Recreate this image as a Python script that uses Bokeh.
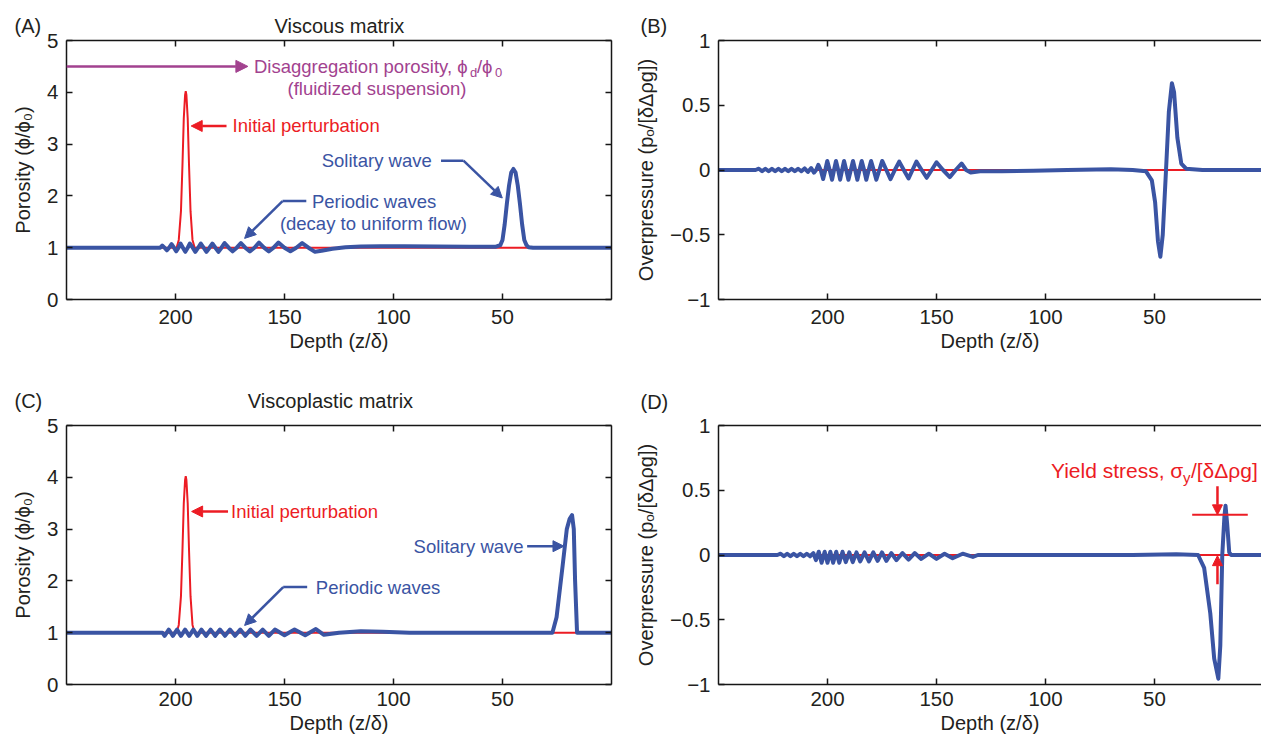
from bokeh.plotting import figure
from bokeh.layouts import column, row
from bokeh.models import Range1d, LinearAxis, FixedTicker, Label, Arrow, NormalHead, Title
from bokeh.embed import file_html
from bokeh.resources import INLINE

FONT = "Liberation Sans"
BLUE = "#3A54A3"
RED = "#EC1C24"
PURPLE = "#A2428F"
INK = "#231F20"
NB = "\u00a0"

# ---------------- data ----------------
depth_ticks = [200, 150, 100, 50]
phi_ticks = [0, 1, 2, 3, 4, 5]
p_ticks = [-1.0, -0.5, 0.0, 0.5, 1.0]
p_tick_labels = {-1.0: "\u22121", -0.5: "\u22120.5", 0.0: "0", 0.5: "0.5", 1.0: "1"}

# initial porosity perturbation (red), same in (A) and (C)
init_depth = [250, 199.5, 198.5, 197.5, 196.8, 196.2, 195.6, 195.3, 195.0, 194.4, 193.8, 193.1, 192.2, 191.2, 0]
init_phi = [1.0, 1.0, 1.15, 1.7, 2.6, 3.5, 3.95, 4.02, 3.95, 3.5, 2.6, 1.7, 1.15, 1.0, 1.0]
# initial overpressure (red), (B) and (D)
init_p_depth = [250, 0]
init_p = [0.0, 0.0]

# (A) viscous matrix porosity
visc_depth = [250, 210,
              207.0, 206.1, 205.0, 204.0, 202.9, 201.8, 200.7, 199.7, 198.6, 197.7, 196.6, 195.5,
              194.4, 193.4, 192.1, 190.9, 189.6, 188.4, 187.1, 185.8, 184.4, 183.1, 181.7, 180.3,
              178.9, 177.5, 175.6, 173.8, 171.9, 170.0, 168.0, 165.9, 163.8, 161.7, 159.4, 157.2,
              155.0, 152.8, 150.0, 147.3, 144.6, 141.9, 139.0, 136.0,
              133, 128, 122, 115, 106, 95, 80, 65, 55, 53,
              51, 50, 49, 48, 47, 46, 45, 44, 43, 42, 41, 40, 39, 38, 36, 0]
visc_phi = [1.0, 1.0,
            1.0, 1.04, 1.0, 0.95, 1.0, 1.07, 1.0, 0.93, 1.0, 1.08, 1.0, 0.92,
            1.0, 1.08, 1.0, 0.92, 1.0, 1.08, 1.0, 0.92, 1.0, 1.08, 1.0, 0.92,
            1.0, 1.09, 1.0, 0.93, 1.0, 1.09, 1.0, 0.93, 1.0, 1.10, 1.0, 0.93,
            1.0, 1.10, 1.0, 0.93, 1.0, 1.09, 1.0, 0.92,
            0.94, 0.98, 1.01, 1.025, 1.03, 1.03, 1.025, 1.02, 1.02, 1.02,
            1.05, 1.15, 1.45, 1.85, 2.2, 2.45, 2.52, 2.45, 2.2, 1.85, 1.45, 1.15, 1.05, 1.01, 1.0, 1.0]

# (B) viscous matrix overpressure
visc_p_depth = [250, 233, 231.5, 230, 228.5, 227, 225.5, 224, 222.5, 221, 219.5, 218, 216.5, 215, 213.5, 212,
                210.5, 209, 207.5, 206.2,
                205.2, 204.2, 203.1, 202.0, 201.0, 200.1, 199.0, 197.9, 197.0, 196.1, 195.1, 194.2,
                193.3, 192.4, 191.4, 190.4, 189.3, 188.3, 187.3, 186.3, 185.3, 184.3, 183.2, 182.2,
                181.1, 180.0, 178.8, 177.6, 176.2, 174.9, 173.0, 171.1, 169.1, 167.1, 165.0, 162.8,
                161.0, 159.2, 156.8, 154.5, 152.2, 150.0, 147.0, 143.9, 141.2, 138.5, 136.4, 134.3,
                130, 120, 105.6, 90, 70, 60, 53.9, 51.2, 49.7, 48.4, 47.3, 46.2, 44.7, 43.4, 42.0, 41.0,
                39.5, 37.7, 35.5, 28, 0]
visc_p = [0.0, 0.0, 0.01, -0.01, 0.01, -0.01, 0.01, -0.01, 0.01, -0.01, 0.01, -0.01, 0.01, -0.01, 0.01, -0.01,
          0.012, -0.015, 0.015, -0.02,
          0.0, 0.04, 0.0, -0.07, 0.0, 0.07, 0.0, -0.075, 0.0, 0.07, 0.0, -0.075,
          0.0, 0.07, 0.0, -0.075, 0.0, 0.07, 0.0, -0.075, 0.0, 0.07, 0.0, -0.075,
          0.0, 0.07, 0.0, -0.075, 0.0, 0.07, 0.0, -0.07, 0.0, 0.065, 0.0, -0.065,
          0.0, 0.065, 0.0, -0.06, 0.0, 0.06, 0.0, -0.055, 0.0, 0.05, 0.0, -0.02,
          -0.01, -0.01, -0.005, 0.0, 0.005, 0.0, -0.01, -0.08, -0.25, -0.55, -0.67, -0.5, 0.0, 0.45, 0.67, 0.6,
          0.25, 0.05, 0.01, 0.0, 0.0]

# (C) viscoplastic matrix porosity
vp_depth = [250, 206.0,
            205.0, 203.1, 201.2, 199.3, 197.5, 195.6, 193.7, 191.8, 190.0, 188.1,
            186.0, 183.9, 181.8, 179.6, 177.3, 175.0, 172.7, 170.3, 168.0, 165.6,
            162.8, 160.0, 157.2, 154.4, 150.0, 145.4, 140.5, 135.6, 131.9,
            125, 115, 105, 92.6, 27.1,
            25.2, 22.4, 20.5, 19.2, 18.1, 17.3, 16.7, 15.8, 0]
vp_phi = [1.0, 1.0,
          0.94, 1.06, 0.94, 1.06, 0.94, 1.06, 0.94, 1.06, 0.94, 1.06,
          0.94, 1.06, 0.94, 1.06, 0.94, 1.06, 0.94, 1.06, 0.94, 1.06,
          0.94, 1.06, 0.94, 1.06, 0.95, 1.06, 0.95, 1.07, 0.96,
          1.0, 1.03, 1.02, 1.0, 1.0,
          1.3, 2.3, 3.0, 3.2, 3.27, 3.0, 2.0, 1.0, 1.0]

# (D) viscoplastic matrix overpressure
vp_p_depth = [250, 223, 221.5, 220, 218.5, 217, 215.5, 214, 212.5, 211, 209.5, 208, 206.5,
              205.3, 204.0, 202.7, 201.3, 200.0, 198.7, 197.4, 196.0, 194.6, 193.1,
              191.6, 190.0, 188.4, 186.7, 185.0, 183.0, 181.0, 179.0, 177.0, 175.0,
              173.0, 170.7, 168.4, 165.6, 162.8, 160.0, 157.0, 153.5, 150.0, 146.3,
              142.6, 138.0, 133.3,
              131, 100, 60, 40, 30.0, 27.2, 24.4, 22.6, 20.7, 19.8, 18.9, 17.9, 17.4, 16.7, 15.7, 14.8, 0]
vp_p = [0.0, 0.0, 0.01, -0.01, 0.01, -0.01, 0.01, -0.01, 0.01, -0.01, 0.01, -0.01, 0.015,
        -0.04, 0.025, -0.06, 0.025, -0.06, 0.025, -0.06, 0.025, -0.06, 0.025,
        -0.055, 0.02, -0.055, 0.02, -0.05, 0.02, -0.05, 0.02, -0.045, 0.02,
        -0.045, 0.015, -0.04, 0.015, -0.035, 0.015, -0.03, 0.01, -0.03, 0.01,
        -0.025, 0.01, -0.015,
        0.0, 0.0, 0.0, 0.005, 0.0, -0.1, -0.45, -0.8, -0.955, -0.7, 0.0, 0.3, 0.38, 0.25, 0.02, 0.0, 0.0]

assert len(visc_depth) == len(visc_phi)
assert len(visc_p_depth) == len(visc_p)
assert len(vp_depth) == len(vp_phi)
assert len(vp_p_depth) == len(vp_p)


# ---------------- helpers ----------------
def style_axis(ax, ticks, labels=True, overrides=None, standoff=7):
    ax.ticker = FixedTicker(ticks=ticks)
    ax.major_tick_in = 6
    ax.major_tick_out = 0
    ax.minor_tick_in = 0
    ax.minor_tick_out = 0
    ax.axis_line_width = 1.5
    ax.axis_line_color = "#161616"
    ax.major_tick_line_width = 1.5
    ax.major_tick_line_color = "#161616"
    ax.major_label_text_font = FONT
    if labels:
        ax.major_label_text_color = INK
        ax.major_label_text_font_size = "20.5px"
        ax.major_label_standoff = standoff
    else:
        ax.major_label_text_color = None
        ax.major_label_text_font_size = "1px"
        ax.major_label_standoff = 0
    if overrides:
        ax.major_label_overrides = overrides


def make_fig(width, height, y0, y1, yticks, ylabel, x_end, ml, mr, mt, mb, right_axis,
             overrides=None, xstandoff=7):
    p = figure(width=width, height=height, x_range=Range1d(250, x_end), y_range=Range1d(y0, y1),
               output_backend="svg", toolbar_location=None, tools="",
               min_border_left=ml, min_border_right=mr, min_border_top=mt, min_border_bottom=mb)
    p.outline_line_color = None
    p.xgrid.grid_line_color = None
    p.ygrid.grid_line_color = None
    p.background_fill_color = "white"
    p.border_fill_color = "white"
    style_axis(p.xaxis[0], depth_ticks, standoff=xstandoff)
    style_axis(p.yaxis[0], yticks, overrides=overrides, standoff=8)
    p.xaxis[0].axis_label = "Depth (z/\u03b4)"
    p.yaxis[0].axis_label = ylabel
    for ax in (p.xaxis[0], p.yaxis[0]):
        ax.axis_label_text_font = FONT
        ax.axis_label_text_font_size = "20px"
        ax.axis_label_text_font_style = "normal"
        ax.axis_label_text_color = INK
    p.xaxis[0].axis_label_standoff = 3
    p.yaxis[0].axis_label_standoff = 10
    top = LinearAxis()
    style_axis(top, depth_ticks, labels=False)
    p.add_layout(top, "above")
    if right_axis:
        rt = LinearAxis()
        style_axis(rt, yticks, labels=False)
        p.add_layout(rt, "right")
    return p


def add_title(p, s, offset, standoff, size="20px"):
    # panel letter and heading, written above the frame
    p.add_layout(Title(text=s, align="left", offset=offset, text_font=FONT, text_font_size=size,
                       text_font_style="normal", text_color=INK, standoff=standoff), "above")


def text(p, x, y, s, color, size="18.5px", align="left", xo=0, yo=0):
    p.add_layout(Label(x=x, y=y, text=s, text_font=FONT, text_font_size=size, text_color=color,
                       text_align=align, text_baseline="middle", x_offset=xo, y_offset=yo))


def arrow(p, x0, y0, x1, y1, color, size=11, lw=2.5):
    p.add_layout(Arrow(x_start=x0, y_start=y0, x_end=x1, y_end=y1, line_color=color, line_width=lw,
                       start=None,
                       end=NormalHead(size=size, fill_color=color, line_color=color, line_width=1)))


PHI_LABEL = "Porosity (\u03d5/\u03d5\u2080)"
P_LABEL = "Overpressure (p\u2092/[\u03b4\u0394\u03c1g])"

# ---------------- (A) ----------------
pA = make_fig(621, 355, 0, 5, phi_ticks, PHI_LABEL, 0, 66, 10, 40, 56, True, xstandoff=10)
pA.line(init_depth, init_phi, line_color=RED, line_width=2)
pA.line(visc_depth, visc_phi, line_color=BLUE, line_width=4, line_join="round")
add_title(pA, "(A)" + NB * 42 + "Viscous matrix", -52, 8)
arrow(pA, 250, 4.5, 166.8, 4.5, PURPLE, 12, 2.5)
text(pA, 164, 4.5, "Disaggregation porosity, \u03d5", PURPLE)
text(pA, 164, 4.5, "d", PURPLE, "13px", xo=216, yo=-6)
text(pA, 164, 4.5, "/\u03d5", PURPLE, xo=223)
text(pA, 164, 4.5, "0", PURPLE, "13px", xo=241, yo=-6)
text(pA, 107.6, 4.07, "(fluidized suspension)", PURPLE, align="center")
arrow(pA, 176.6, 3.35, 192.8, 3.35, RED, 11, 2.5)
text(pA, 173.8, 3.35, "Initial perturbation", RED)
text(pA, 107.7, 2.69, "Solitary wave", BLUE, align="center")
pA.line([78.2, 67.9], [2.68, 2.68], line_color=BLUE, line_width=2.5)
arrow(pA, 67.9, 2.68, 50.1, 1.96, BLUE, 11, 2.5)
text(pA, 108.9, 1.89, "Periodic waves", BLUE, align="center")
text(pA, 109.2, 1.47, "(decay to uniform flow)", BLUE, align="center")
pA.line([140.0, 150.9], [1.90, 1.90], line_color=BLUE, line_width=2.5)
arrow(pA, 150.9, 1.90, 168.3, 1.18, BLUE, 11, 2.5)

# ---------------- (B) ----------------
pB = make_fig(640, 355, -1, 1, p_ticks, P_LABEL, 0.9, 97, 0, 40, 56, False, p_tick_labels, xstandoff=10)
pB.line(init_p_depth, init_p, line_color=RED, line_width=2)
pB.line(visc_p_depth, visc_p, line_color=BLUE, line_width=4, line_join="round")
add_title(pB, "(B)", -78, 8)

# ---------------- (C) ----------------
pC = make_fig(621, 384, 0, 5, phi_ticks, PHI_LABEL, 0, 66, 10, 70, 55, True)
pC.line(init_depth, init_phi, line_color=RED, line_width=2)
pC.line(vp_depth, vp_phi, line_color=BLUE, line_width=4, line_join="round")
add_title(pC, "(C)" + NB * 37 + "Viscoplastic matrix", -52, 27)
arrow(pC, 175.9, 3.34, 192.6, 3.34, RED, 11, 2.5)
text(pC, 174.5, 3.34, "Initial perturbation", RED)
text(pC, 90.8, 2.67, "Solitary wave", BLUE)
arrow(pC, 38.7, 2.67, 21.8, 2.67, BLUE, 11, 2.5)
text(pC, 107.1, 1.88, "Periodic waves", BLUE, align="center")
pC.line([139.6, 150.6], [1.88, 1.88], line_color=BLUE, line_width=2.5)
arrow(pC, 150.6, 1.88, 168.3, 1.14, BLUE, 11, 2.5)

# ---------------- (D) ----------------
pD = make_fig(640, 384, -1, 1, p_ticks, P_LABEL, 0.9, 97, 0, 70, 55, False, p_tick_labels)
pD.line(init_p_depth, init_p, line_color=RED, line_width=2)
pD.line(vp_p_depth, vp_p, line_color=BLUE, line_width=4, line_join="round")
add_title(pD, "(D)", -78, 26)
text(pD, 97.5, 0.65, "Yield stress, \u03c3", RED, "21px")
text(pD, 97.5, 0.65, "y", RED, "15px", xo=132, yo=-7)
text(pD, 97.5, 0.65, "/[\u03b4\u0394\u03c1g]", RED, "21px", xo=140)
pD.line([32.7, 7.2], [0.31, 0.31], line_color=RED, line_width=2)
arrow(pD, 21.1, 0.53, 21.1, 0.31, RED, 10, 2.5)
arrow(pD, 21.1, -0.225, 21.1, -0.005, RED, 10, 2.5)

layout = column(row(pA, pB), row(pC, pD))
open("out.html", "w").write(file_html(layout, INLINE))
